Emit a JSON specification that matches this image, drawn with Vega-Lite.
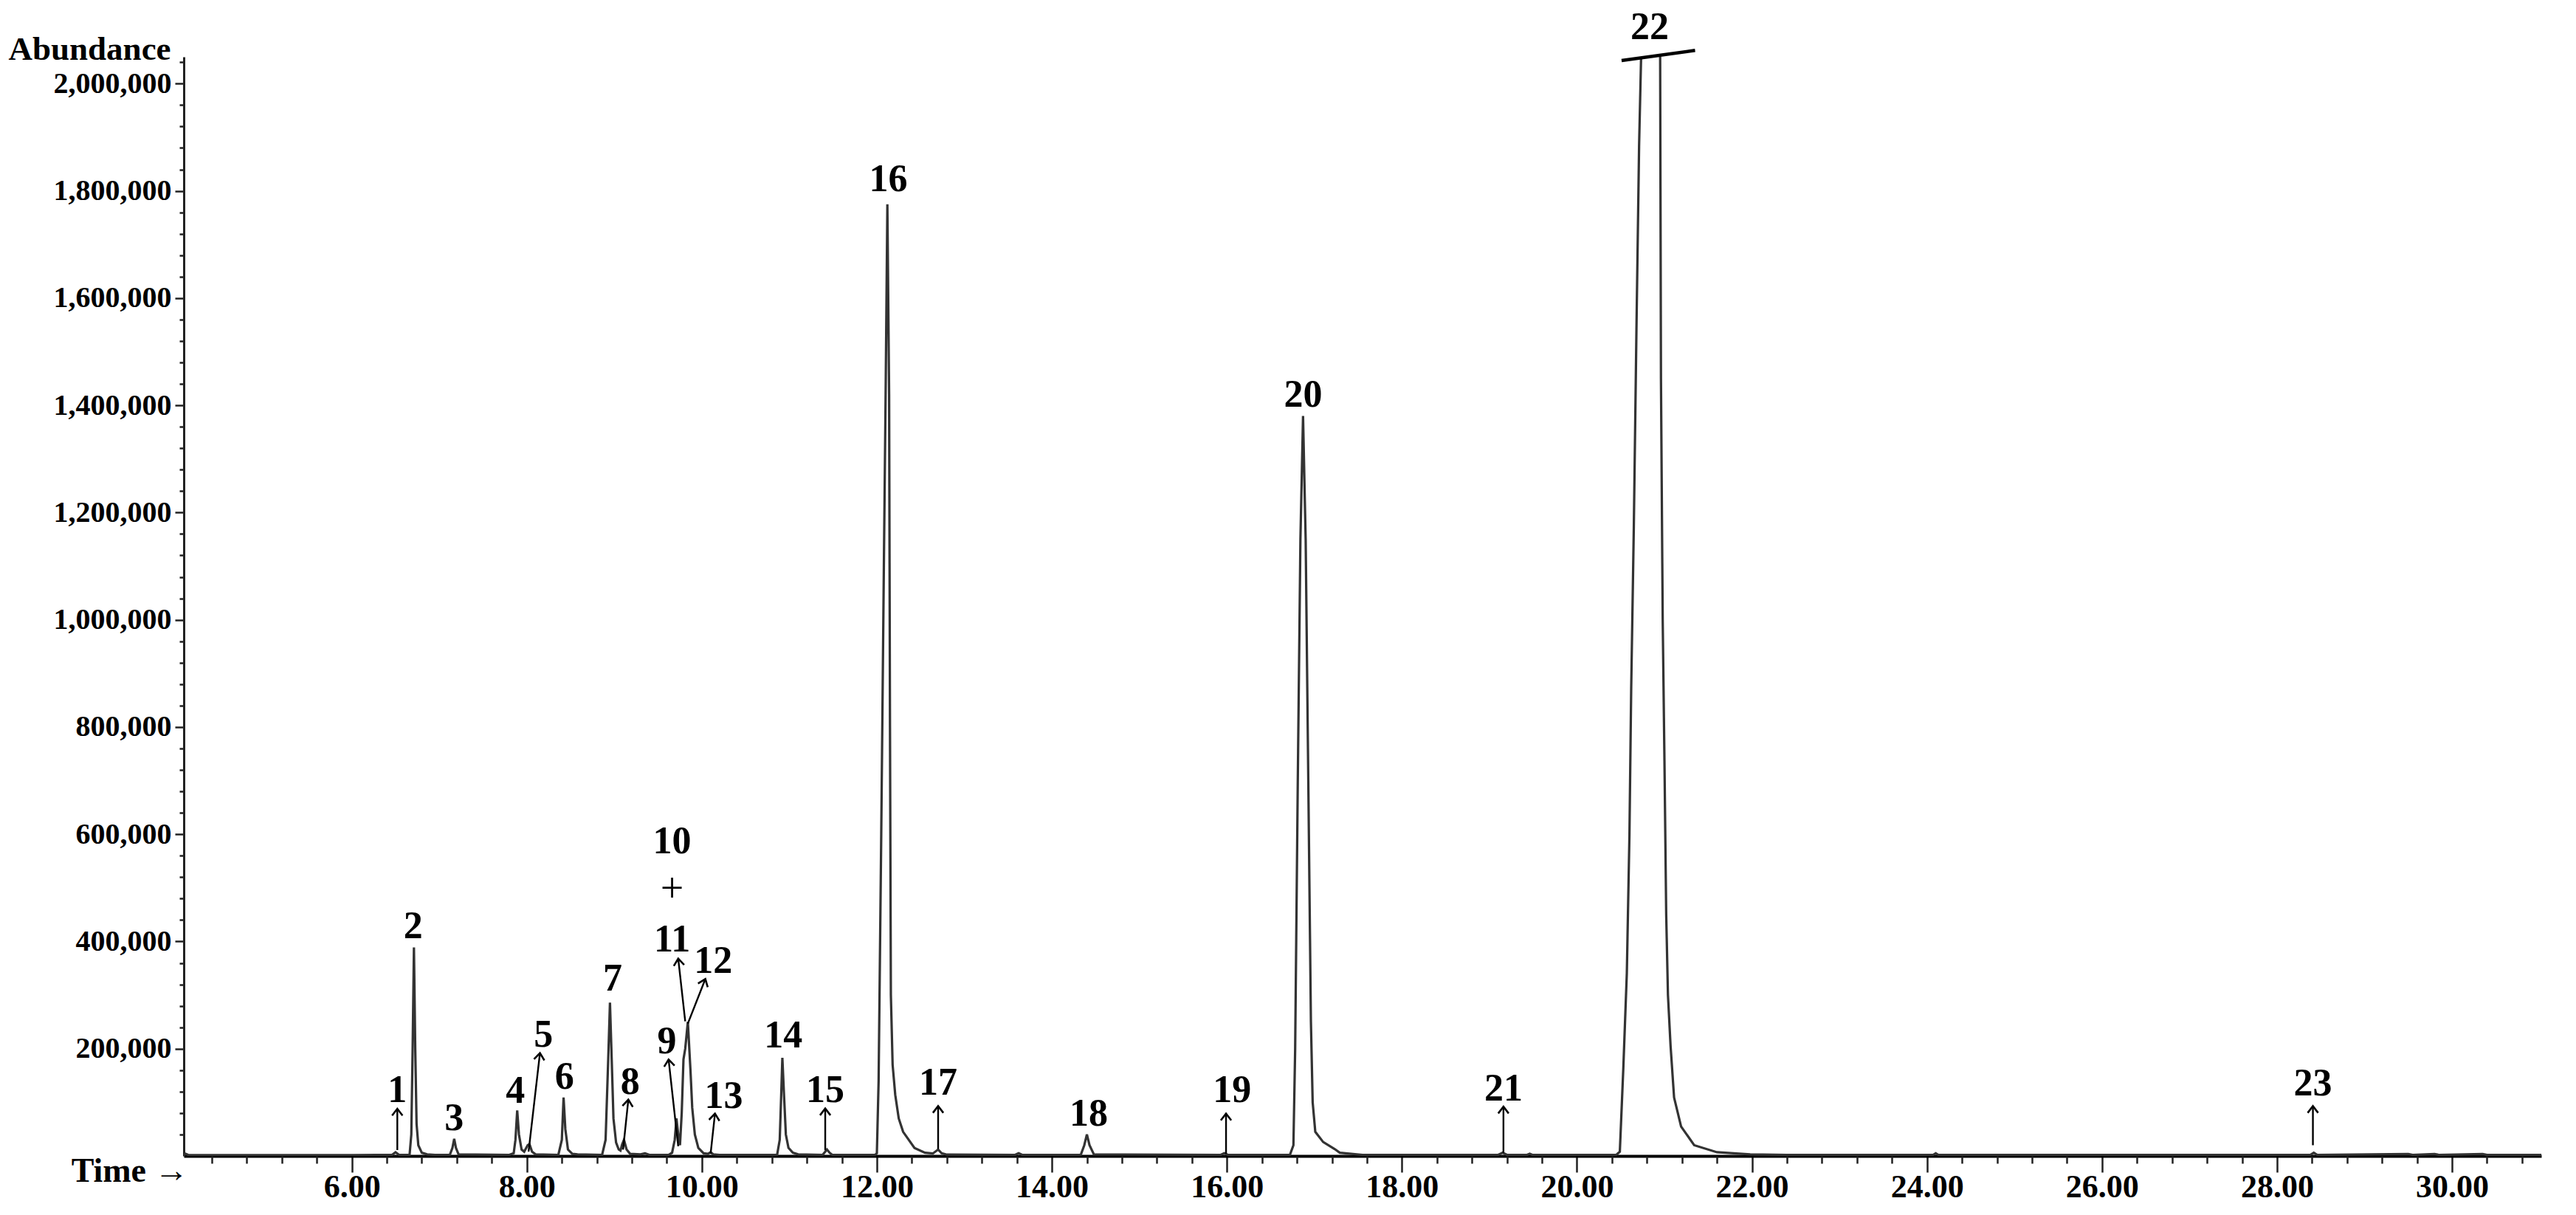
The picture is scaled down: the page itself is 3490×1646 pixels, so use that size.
{
  "$schema": "https://vega.github.io/schema/vega-lite/v6.json",
  "width": 3194,
  "height": 1489,
  "autosize": "none",
  "padding": {"left": 249, "top": 77, "right": 47, "bottom": 80},
  "background": "white",
  "config": {
    "view": {"stroke": null},
    "axis": {
      "grid": false,
      "labelFont": "Liberation Serif",
      "labelFontWeight": "bold",
      "labelColor": "#000",
      "titleFont": "Liberation Serif",
      "titleFontWeight": "bold",
      "titleColor": "#000",
      "titleFontSize": 45,
      "domainColor": "#222",
      "tickColor": "#222",
      "labelOverlap": false,
      "labelLimit": 500,
      "zindex": 1
    }
  },
  "resolve": {"axis": {"x": "independent", "y": "independent"}},
  "datasets": {
    "trace": [
      {"time": 4.08, "abundance": 2000}, {"time": 4.10, "abundance": 4000}, {"time": 4.13, "abundance": 2000},
      {"time": 5.00, "abundance": 1500}, {"time": 6.00, "abundance": 1500},
      {"time": 6.46, "abundance": 2000}, {"time": 6.50, "abundance": 7000}, {"time": 6.54, "abundance": 2000},
      {"time": 6.66, "abundance": 2000}, {"time": 6.68, "abundance": 40000}, {"time": 6.695, "abundance": 200000},
      {"time": 6.71, "abundance": 389000}, {"time": 6.725, "abundance": 200000}, {"time": 6.74, "abundance": 60000},
      {"time": 6.76, "abundance": 20000}, {"time": 6.80, "abundance": 6000}, {"time": 6.86, "abundance": 3000},
      {"time": 6.95, "abundance": 2000},
      {"time": 7.12, "abundance": 2000}, {"time": 7.15, "abundance": 15000}, {"time": 7.17, "abundance": 32000},
      {"time": 7.19, "abundance": 15000}, {"time": 7.22, "abundance": 3000},
      {"time": 7.80, "abundance": 2000}, {"time": 7.85, "abundance": 5000}, {"time": 7.87, "abundance": 30000},
      {"time": 7.89, "abundance": 85000}, {"time": 7.91, "abundance": 40000}, {"time": 7.94, "abundance": 12000},
      {"time": 7.97, "abundance": 8000}, {"time": 8.01, "abundance": 20000}, {"time": 8.03, "abundance": 22000},
      {"time": 8.06, "abundance": 8000}, {"time": 8.10, "abundance": 3000},
      {"time": 8.36, "abundance": 2000}, {"time": 8.40, "abundance": 30000}, {"time": 8.42, "abundance": 109000},
      {"time": 8.44, "abundance": 50000}, {"time": 8.47, "abundance": 12000}, {"time": 8.52, "abundance": 4000},
      {"time": 8.58, "abundance": 3000},
      {"time": 8.86, "abundance": 2000}, {"time": 8.90, "abundance": 30000}, {"time": 8.93, "abundance": 180000},
      {"time": 8.95, "abundance": 286000}, {"time": 8.97, "abundance": 180000}, {"time": 8.99, "abundance": 70000},
      {"time": 9.02, "abundance": 25000}, {"time": 9.05, "abundance": 12000}, {"time": 9.07, "abundance": 10000},
      {"time": 9.09, "abundance": 22000}, {"time": 9.11, "abundance": 30000}, {"time": 9.14, "abundance": 12000},
      {"time": 9.18, "abundance": 4000}, {"time": 9.30, "abundance": 3000}, {"time": 9.35, "abundance": 5000},
      {"time": 9.40, "abundance": 2000},
      {"time": 9.62, "abundance": 2000}, {"time": 9.66, "abundance": 6000}, {"time": 9.69, "abundance": 30000},
      {"time": 9.71, "abundance": 70000}, {"time": 9.73, "abundance": 40000}, {"time": 9.75, "abundance": 20000},
      {"time": 9.77, "abundance": 80000}, {"time": 9.79, "abundance": 180000}, {"time": 9.81, "abundance": 200000},
      {"time": 9.84, "abundance": 250000}, {"time": 9.87, "abundance": 160000}, {"time": 9.89, "abundance": 90000},
      {"time": 9.92, "abundance": 40000}, {"time": 9.96, "abundance": 15000}, {"time": 10.02, "abundance": 5000},
      {"time": 10.07, "abundance": 4000}, {"time": 10.10, "abundance": 7000}, {"time": 10.13, "abundance": 3000},
      {"time": 10.20, "abundance": 2000},
      {"time": 10.86, "abundance": 2000}, {"time": 10.89, "abundance": 30000}, {"time": 10.91, "abundance": 130000},
      {"time": 10.92, "abundance": 183000}, {"time": 10.94, "abundance": 110000}, {"time": 10.96, "abundance": 40000},
      {"time": 10.99, "abundance": 15000}, {"time": 11.04, "abundance": 6000}, {"time": 11.10, "abundance": 3000},
      {"time": 11.38, "abundance": 2000}, {"time": 11.41, "abundance": 8000}, {"time": 11.43, "abundance": 12000},
      {"time": 11.46, "abundance": 6000}, {"time": 11.49, "abundance": 2000},
      {"time": 11.98, "abundance": 2000}, {"time": 12.00, "abundance": 5000}, {"time": 12.02, "abundance": 140000},
      {"time": 12.05, "abundance": 600000}, {"time": 12.08, "abundance": 1100000}, {"time": 12.10, "abundance": 1420000},
      {"time": 12.12, "abundance": 1775000}, {"time": 12.14, "abundance": 1420000}, {"time": 12.15, "abundance": 800000},
      {"time": 12.16, "abundance": 300000}, {"time": 12.18, "abundance": 170000}, {"time": 12.21, "abundance": 114000},
      {"time": 12.25, "abundance": 70000}, {"time": 12.30, "abundance": 45000}, {"time": 12.43, "abundance": 15000},
      {"time": 12.55, "abundance": 6000}, {"time": 12.64, "abundance": 4600}, {"time": 12.70, "abundance": 12000},
      {"time": 12.74, "abundance": 5000}, {"time": 12.80, "abundance": 2500},
      {"time": 13.58, "abundance": 2000}, {"time": 13.62, "abundance": 5000}, {"time": 13.66, "abundance": 2000},
      {"time": 14.33, "abundance": 2000}, {"time": 14.37, "abundance": 20000}, {"time": 14.40, "abundance": 40000},
      {"time": 14.43, "abundance": 20000}, {"time": 14.48, "abundance": 3000},
      {"time": 15.93, "abundance": 2000}, {"time": 15.97, "abundance": 5000}, {"time": 16.01, "abundance": 2000},
      {"time": 16.72, "abundance": 2000}, {"time": 16.76, "abundance": 20000}, {"time": 16.78, "abundance": 200000},
      {"time": 16.81, "abundance": 700000}, {"time": 16.84, "abundance": 1150000}, {"time": 16.87, "abundance": 1380000},
      {"time": 16.90, "abundance": 1150000}, {"time": 16.93, "abundance": 700000}, {"time": 16.96, "abundance": 250000},
      {"time": 16.98, "abundance": 100000}, {"time": 17.01, "abundance": 45000}, {"time": 17.10, "abundance": 26000},
      {"time": 17.23, "abundance": 13000}, {"time": 17.29, "abundance": 6000}, {"time": 17.55, "abundance": 2000},
      {"time": 19.10, "abundance": 2000}, {"time": 19.15, "abundance": 6000}, {"time": 19.20, "abundance": 2000},
      {"time": 19.43, "abundance": 2000}, {"time": 19.46, "abundance": 4000}, {"time": 19.49, "abundance": 2000},
      {"time": 20.45, "abundance": 2000}, {"time": 20.49, "abundance": 8000}, {"time": 20.53, "abundance": 164000},
      {"time": 20.57, "abundance": 341000}, {"time": 20.60, "abundance": 600000}, {"time": 20.62, "abundance": 873000},
      {"time": 20.65, "abundance": 1174000}, {"time": 20.68, "abundance": 1542000}, {"time": 20.71, "abundance": 1883000},
      {"time": 20.74, "abundance": 2100000}, {"time": 20.80, "abundance": 2500000}, {"time": 20.88, "abundance": 2500000},
      {"time": 20.95, "abundance": 2100000}, {"time": 20.96, "abundance": 1450000}, {"time": 20.98, "abundance": 1000000},
      {"time": 21.00, "abundance": 737000}, {"time": 21.02, "abundance": 450000}, {"time": 21.04, "abundance": 300000},
      {"time": 21.07, "abundance": 205000}, {"time": 21.11, "abundance": 109000}, {"time": 21.19, "abundance": 55000},
      {"time": 21.34, "abundance": 20000}, {"time": 21.60, "abundance": 7000}, {"time": 21.98, "abundance": 3000},
      {"time": 22.40, "abundance": 2000},
      {"time": 24.07, "abundance": 2000}, {"time": 24.10, "abundance": 5000}, {"time": 24.13, "abundance": 2000},
      {"time": 28.38, "abundance": 2000}, {"time": 28.42, "abundance": 6000}, {"time": 28.46, "abundance": 2000},
      {"time": 29.50, "abundance": 3500}, {"time": 29.55, "abundance": 2000}, {"time": 29.80, "abundance": 3500},
      {"time": 29.85, "abundance": 2000}, {"time": 30.35, "abundance": 3500}, {"time": 30.40, "abundance": 2000},
      {"time": 31.02, "abundance": 2000}
    ],
    "labels": [
      {"t": 6.52, "a": 123000, "label": "1"},
      {"t": 6.70, "a": 428000, "label": "2"},
      {"t": 7.17, "a": 70000, "label": "3"},
      {"t": 7.87, "a": 121000, "label": "4"},
      {"t": 8.19, "a": 226000, "label": "5"},
      {"t": 8.43, "a": 148000, "label": "6"},
      {"t": 8.98, "a": 330000, "label": "7"},
      {"t": 9.18, "a": 137000, "label": "8"},
      {"t": 9.60, "a": 213000, "label": "9"},
      {"t": 9.66, "a": 587000, "label": "10"},
      {"t": 9.66, "a": 497000, "label": "+"},
      {"t": 9.66, "a": 403000, "label": "11"},
      {"t": 10.13, "a": 364000, "label": "12"},
      {"t": 10.25, "a": 112000, "label": "13"},
      {"t": 10.93, "a": 224000, "label": "14"},
      {"t": 11.41, "a": 123000, "label": "15"},
      {"t": 12.13, "a": 1822000, "label": "16"},
      {"t": 12.70, "a": 136000, "label": "17"},
      {"t": 14.42, "a": 79000, "label": "18"},
      {"t": 16.06, "a": 123000, "label": "19"},
      {"t": 16.87, "a": 1420000, "label": "20"},
      {"t": 19.16, "a": 125000, "label": "21"},
      {"t": 20.83, "a": 2105000, "label": "22"},
      {"t": 28.41, "a": 135000, "label": "23"}
    ],
    "arrows": [
      {"peak": "1", "t": 6.52, "a": 11000, "t2": 6.52, "a2": 88000},
      {"peak": "5", "t": 8.02, "a": 8000, "t2": 8.15, "a2": 192000},
      {"peak": "8", "t": 9.10, "a": 12000, "t2": 9.16, "a2": 105000},
      {"peak": "9", "t": 9.73, "a": 18000, "t2": 9.62, "a2": 180000},
      {"peak": "11", "t": 9.81, "a": 251000, "t2": 9.73, "a2": 368000},
      {"peak": "12", "t": 9.84, "a": 247000, "t2": 10.04, "a2": 330000},
      {"peak": "13", "t": 10.10, "a": 4000, "t2": 10.15, "a2": 79000},
      {"peak": "15", "t": 11.41, "a": 10600, "t2": 11.41, "a2": 88600},
      {"peak": "17", "t": 12.70, "a": 13000, "t2": 12.70, "a2": 93000},
      {"peak": "19", "t": 15.99, "a": 4000, "t2": 15.99, "a2": 79000},
      {"peak": "21", "t": 19.16, "a": 6000, "t2": 19.16, "a2": 92000},
      {"peak": "23", "t": 28.41, "a": 20000, "t2": 28.41, "a2": 93000}
    ],
    "cut": [
      {"t": 20.51, "a": 2043000, "t2": 21.35, "a2": 2062000}
    ]
  },
  "layer": [
    {
      "data": {"name": "trace"},
      "mark": {"type": "line", "clip": true, "color": "#333333", "strokeWidth": 3.2},
      "encoding": {
        "x": {
          "field": "time", "type": "quantitative",
          "scale": {"domain": [4.08, 31.02], "nice": false, "zero": false},
          "axis": {
            "orient": "bottom",
            "values": [6, 8, 10, 12, 14, 16, 18, 20, 22, 24, 26, 28, 30],
            "format": ".2f",
            "labelFontSize": 44,
            "tickSize": 22,
            "tickWidth": 2.5,
            "domainWidth": 4,
            "domainColor": "#000",
            "labelPadding": -2,
            "labelBaseline": "top",
            "labelFlush": false,
            "labelBound": false,
            "title": "Time →",
            "titleFontSize": 46,
            "titleX": 6,
            "titleY": 34,
            "titleAlign": "right",
            "titleBaseline": "alphabetic"
          }
        },
        "y": {
          "field": "abundance", "type": "quantitative",
          "scale": {"domain": [0, 2050000], "nice": false},
          "axis": {
            "orient": "left",
            "values": [200000, 400000, 600000, 800000, 1000000, 1200000, 1400000, 1600000, 1800000, 2000000],
            "format": ",.0f",
            "labelFontSize": 40,
            "tickSize": 12,
            "tickWidth": 2.5,
            "domainWidth": 3,
            "labelPadding": 5,
            "labelFlush": false,
            "labelBound": false,
            "title": "Abundance",
            "titleAngle": 0,
            "titleX": -238,
            "titleY": 3,
            "titleAlign": "left",
            "titleBaseline": "alphabetic"
          }
        }
      }
    },
    {
      "data": {"name": "cut"},
      "mark": {"type": "rule", "color": "#000", "strokeWidth": 4.5},
      "encoding": {
        "x": {
          "field": "t", "type": "quantitative",
          "axis": {
            "orient": "bottom",
            "values": [4.4, 4.8, 5.2, 5.6, 6.4, 6.8, 7.2, 7.6, 8.4, 8.8, 9.2, 9.6, 10.4, 10.8, 11.2, 11.6, 12.4, 12.8, 13.2, 13.6, 14.4, 14.8, 15.2, 15.6, 16.4, 16.8, 17.2, 17.6, 18.4, 18.8, 19.2, 19.6, 20.4, 20.8, 21.2, 21.6, 22.4, 22.8, 23.2, 23.6, 24.4, 24.8, 25.2, 25.6, 26.4, 26.8, 27.2, 27.6, 28.4, 28.8, 29.2, 29.6, 30.4, 30.8],
            "labels": false,
            "domain": false,
            "tickSize": 10,
            "tickWidth": 2.5,
            "title": null
          }
        },
        "y": {
          "field": "a", "type": "quantitative",
          "axis": {
            "orient": "left",
            "values": [40000, 80000, 120000, 160000, 240000, 280000, 320000, 360000, 440000, 480000, 520000, 560000, 640000, 680000, 720000, 760000, 840000, 880000, 920000, 960000, 1040000, 1080000, 1120000, 1160000, 1240000, 1280000, 1320000, 1360000, 1440000, 1480000, 1520000, 1560000, 1640000, 1680000, 1720000, 1760000, 1840000, 1880000, 1920000, 1960000, 2040000],
            "labels": false,
            "domain": false,
            "tickSize": 6,
            "tickWidth": 2.5,
            "title": null
          }
        },
        "x2": {"field": "t2"},
        "y2": {"field": "a2"}
      }
    },
    {
      "data": {"name": "arrows"},
      "mark": {"type": "rule", "color": "#000", "strokeWidth": 2.4},
      "encoding": {
        "x": {"field": "t", "type": "quantitative", "axis": null},
        "y": {"field": "a", "type": "quantitative", "axis": null},
        "x2": {"field": "t2"},
        "y2": {"field": "a2"}
      }
    },
    {
      "data": {"name": "arrows"},
      "transform": [
        {"calculate": "atan2((datum.t2 - datum.t) * 118.6, (datum.a2 - datum.a) * 0.0007265) * 180 / PI", "as": "ang"}
      ],
      "mark": {"type": "point", "shape": "M-1,1.3L0,0L1,1.3", "filled": false, "stroke": "#000", "strokeWidth": 2.6, "size": 200, "opacity": 1},
      "encoding": {
        "x": {"field": "t2", "type": "quantitative", "axis": null},
        "y": {"field": "a2", "type": "quantitative", "axis": null},
        "angle": {"field": "ang", "type": "quantitative", "scale": null}
      }
    },
    {
      "data": {"name": "labels"},
      "transform": [{"filter": "datum.label != '+'"}],
      "mark": {"type": "text", "font": "Liberation Serif", "fontWeight": "bold", "fontSize": 52, "color": "#000", "baseline": "middle", "align": "center"},
      "encoding": {
        "x": {"field": "t", "type": "quantitative", "axis": null},
        "y": {"field": "a", "type": "quantitative", "axis": null},
        "text": {"field": "label"}
      }
    },
    {
      "data": {"name": "labels"},
      "transform": [{"filter": "datum.label == '+'"}],
      "mark": {"type": "text", "font": "Liberation Serif", "fontWeight": "normal", "fontSize": 56, "color": "#000", "baseline": "middle", "align": "center"},
      "encoding": {
        "x": {"field": "t", "type": "quantitative", "axis": null},
        "y": {"field": "a", "type": "quantitative", "axis": null},
        "text": {"field": "label"}
      }
    }
  ]
}
